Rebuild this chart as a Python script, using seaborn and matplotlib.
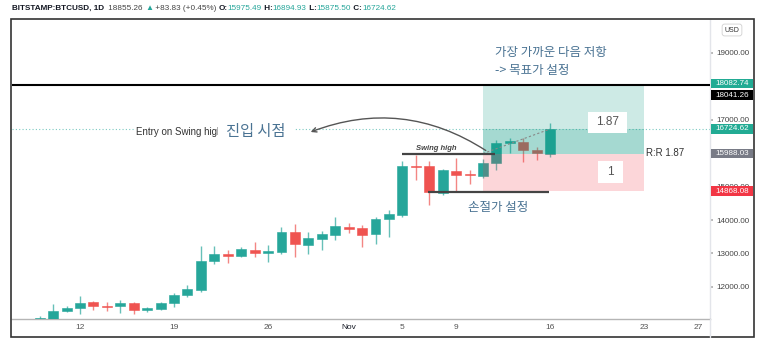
import matplotlib
matplotlib.use("Agg")
import matplotlib.pyplot as plt
import matplotlib.transforms as mtransforms
from matplotlib.patches import Rectangle, FancyArrowPatch
from matplotlib.lines import Line2D
import seaborn as sns
import numpy as np
import pandas as pd

# ---------------- data ----------------
# day index: Oct d -> d, Nov d -> 31 + d
day_index = [9, 10, 11, 12, 13, 14, 15, 16, 17, 18, 19, 20, 21, 22, 23, 24, 25, 26, 27, 28, 29, 30, 31,
             32, 33, 34, 35, 36, 37, 38, 39, 40, 41, 42, 43, 44, 45, 46, 47]
opens = [10930, 11050, 11285, 11356, 11536, 11434, 11416, 11506, 11305, 11344, 11506, 11745, 11904,
         12781, 12991, 12922, 13102, 13021, 13042, 13641, 13261, 13440, 13560,
         13790, 13751, 13572, 14030, 14150, 15626, 15617, 14799, 15477, 15377, 15317, 15698,
         16314, 16335, 16096, 15975.49]
highs = [11130, 11485, 11425, 11725, 11575, 11554, 11605, 11554, 11404, 11554, 11823, 12054, 13231,
         13207, 13102, 13183, 13350, 13252, 13781, 13871, 13632, 13671, 14099,
         13901, 13841, 14081, 14285, 15775, 15955, 15775, 15530, 15847, 15497, 15840, 16395,
         16464, 16446, 16177, 16894.93]
lows = [10830, 10950, 11245, 11192, 11305, 11275, 11225, 11186, 11236, 11305, 11404, 11686, 11835,
        12683, 12722, 12883, 12883, 12752, 12982, 12883, 12982, 13102, 13401,
        13620, 13200, 13281, 13500, 14099, 15198, 14449, 14760, 14847, 15078, 15250, 15497,
        15997, 15746, 15796, 15875.50]
closes = [11060, 11285, 11356, 11524, 11425, 11404, 11506, 11296, 11356, 11506, 11745, 11925, 12781,
          12982, 12931, 13123, 13021, 13063, 13641, 13273, 13461, 13572, 13820,
          13740, 13560, 14039, 14165, 15617, 15578, 14838, 15497, 15347, 15338, 15716, 16314,
          16356, 16096, 15997, 16724.62]

tick_days = [12, 19, 26, 32, 36, 40, 47, 54, 58]
tick_labels = ["12", "19", "26", "Nov", "5", "9", "16", "23", "27"]
price_ticks = [12000, 13000, 14000, 15000, 17000, 19000]

target_price = 18082.74
resistance_price = 18041.26
last_price = 16724.62
entry_price = 15988.03
stop_price = 14868.08
swing_high_price = 15967
stop_line_price = 14847
position_start, position_end = 42, 54
rr_value = "1.87"

header_parts = [("BITSTAMP:BTCUSD, 1D ", "#131722", "bold"),
                (" 18855.26 ", "#444444", "normal"),
                ("\u25B2", "#26a69a", "normal"),
                (" +83.83 (+0.45%) ", "#444444", "normal"),
                ("O:", "#131722", "bold"), ("15975.49", "#26a69a", "normal"),
                (" H:", "#131722", "bold"), ("16894.93", "#26a69a", "normal"),
                (" L:", "#131722", "bold"), ("15875.50", "#26a69a", "normal"),
                (" C:", "#131722", "bold"), ("16724.62", "#26a69a", "normal")]

df = pd.DataFrame({"day": day_index, "open": opens, "high": highs, "low": lows, "close": closes})

# ---------------- style ----------------
sns.set_theme(style="white")
plt.rcParams["font.family"] = ["Liberation Sans", "Noto Sans CJK KR", "DejaVu Sans"]
KR = ["Noto Sans CJK KR", "DejaVu Sans"]
GREEN = "#26a69a"
RED = "#ef5350"
KCOL = "#4a7393"

W, H = 773, 348
fig = plt.figure(figsize=(W / 100, H / 100), dpi=100)
fig.patch.set_facecolor("white")
ax = fig.add_axes([12 / W, 29 / H, 698 / W, 299 / H])
ax.set_facecolor("white")
ax.set_xlim(6.94, 58.9)
ax.set_ylim(11036, 19988)

# ---------------- candles ----------------
up = df["close"] >= df["open"]
colors = np.where(up, GREEN, RED)
ax.vlines(df["day"], df["low"], df["high"], colors=colors, lw=1.0, alpha=0.7, zorder=2)
body_bottom = np.minimum(df["open"], df["close"])
body_h = np.maximum(np.abs(df["close"] - df["open"]), 35)
ax.bar(df["day"], body_h, bottom=body_bottom, width=0.74, color=colors, edgecolor=colors,
       linewidth=0.4, zorder=3)

# ---------------- position zones ----------------
zx = [position_start, position_end]
tv_green = (8 / 255, 153 / 255, 129 / 255)
tv_red = (242 / 255, 54 / 255, 69 / 255)
ax.fill_between(zx, entry_price, target_price, color=tv_green, alpha=0.2, lw=0, zorder=4)
ax.fill_between(zx, entry_price, last_price, color=tv_green, alpha=0.2, lw=0, zorder=4)
ax.fill_between(zx, stop_price, entry_price, color=tv_red, alpha=0.2, lw=0, zorder=4)

# levels
ax.axhline(resistance_price, color="black", lw=1.5, zorder=6)
ax.axhline(last_price, color=GREEN, lw=0.8, ls=(0, (1, 2)), alpha=0.6, zorder=1)
ax.plot([position_start, df["day"].iloc[-1]], [entry_price, last_price], color="#888888",
        lw=0.8, ls=(0, (2, 2)), zorder=5)

# swing high & stop lines
ax.hlines(swing_high_price, 35.98, 42.9, color="#444444", lw=1.6, zorder=6)
ax.hlines(stop_line_price, 37.92, 46.92, color="#444444", lw=1.6, zorder=6)
ax.text(38.5, 16130, "Swing high", fontsize=5.5, style="italic", fontweight="bold",
        color="#444444", ha="center", va="center", zorder=7)

# ratio boxes
ax.add_patch(Rectangle((49.83, 16605), 2.9, 629, facecolor="white", edgecolor="none", zorder=6))
ax.text(49.83 + 1.45, 16605 + 315, rr_value, fontsize=8.5, color="#555555", ha="center",
        va="center", zorder=7)
ax.add_patch(Rectangle((50.57, 15108), 1.86, 658, facecolor="white", edgecolor="none", zorder=6))
ax.text(50.57 + 0.93, 15108 + 329, "1", fontsize=8.5, color="#555555", ha="center",
        va="center", zorder=7)
ax.text(54.1, 16010, "R:R " + rr_value, fontsize=7, color="#333333", ha="left", va="center",
        zorder=7)

# Korean annotations
ax.text(47.07, 19010, "가장 가까운 다음 저항", family=KR, fontsize=9, color=KCOL,
        ha="center", va="center", zorder=7)
ax.text(42.9, 18490, "-> 목표가 설정", family=KR, fontsize=9, color=KCOL,
        ha="left", va="center", zorder=7)
ax.text(43.13, 14360, "손절가 설정", family=KR, fontsize=9, color=KCOL,
        ha="center", va="center", zorder=7)
ax.text(16.17, 16620, "Entry on Swing high", fontsize=7, color="#333333", ha="left",
        va="center", zorder=7, bbox=dict(facecolor="white", edgecolor="none", pad=1))
ax.text(22.87, 16650, "진입 시점", family=KR, fontsize=11, color=KCOL, ha="left",
        va="center", zorder=8, bbox=dict(facecolor="white", edgecolor="none", pad=6))

arrow = FancyArrowPatch((42.38, 16036), (28.98, 16605), connectionstyle="arc3,rad=0.26",
                        arrowstyle="->", mutation_scale=8, color="#555555", lw=1.0, zorder=9)
ax.add_patch(arrow)

# ---------------- axes ----------------
ax.set_xticks(tick_days)
ax.set_xticklabels(tick_labels)
for lab in ax.get_xticklabels():
    lab.set_color("#131722" if lab.get_text() == "Nov" else "#555555")
ax.tick_params(axis="x", length=0, pad=3.5, labelsize=6)
ax.yaxis.tick_right()
ax.set_yticks(price_ticks)
ax.set_yticklabels([f"{p:.2f}" for p in price_ticks])
ax.tick_params(axis="y", length=2.5, color="#b0b0b0", pad=2, labelsize=5.8, labelcolor="#444444")
for s in ["top", "left"]:
    ax.spines[s].set_visible(False)
ax.spines["bottom"].set_color("#b5b5b5")
ax.spines["bottom"].set_linewidth(1.0)
ax.spines["right"].set_color("#e3e5ea")
ax.spines["right"].set_linewidth(1.0)
ax.grid(False)

# price labels on the scale
blend = mtransforms.blended_transform_factory(ax.transAxes, ax.transData)
label_specs = [(target_price, "#22ab94", 0), (resistance_price, "black", -10),
               (last_price, "#22ab94", 0), (entry_price, "#787b86", 0), (stop_price, "#f23645", 0)]
for price, col, off in label_specs:
    tr = blend + mtransforms.ScaledTranslation(0, off / 100, fig.dpi_scale_trans)
    ax.add_patch(Rectangle((1 + 1 / 698, price - 145), 42 / 698, 290, transform=tr,
                           facecolor=col, edgecolor="none", clip_on=False, zorder=10))
    ax.text(1 + 22 / 698, price, f"{price:.2f}", transform=tr, fontsize=5.8, color="white",
            ha="center", va="center", clip_on=False, zorder=11)

# ---------------- frame & extras ----------------
fig.add_artist(Rectangle((11 / W, 11 / H), 743 / W, 318 / H, transform=fig.transFigure,
                         fill=False, edgecolor="#333333", lw=1.2))
fig.add_artist(Line2D([710 / W, 710 / W], [11 / H, 29 / H], transform=fig.transFigure,
                      color="#e3e5ea", lw=1.0))
fig.text(732 / W, 1 - 30 / H, "USD", fontsize=5, color="#333333", ha="center", va="center",
         bbox=dict(boxstyle="round,pad=0.35", facecolor="white", edgecolor="#d0d0d0", lw=0.6))

# header
renderer = fig.canvas.get_renderer()
x0 = 12
for txt, col, wt in header_parts:
    t = fig.text(x0 / W, 1 - 8 / H, txt, fontsize=5.9, color=col, fontweight=wt,
                 ha="left", va="center",
                 family=["Liberation Sans", "DejaVu Sans"])
    bb = t.get_window_extent(renderer)
    x0 += bb.width

fig.savefig("out.png", dpi=100, facecolor="white")
